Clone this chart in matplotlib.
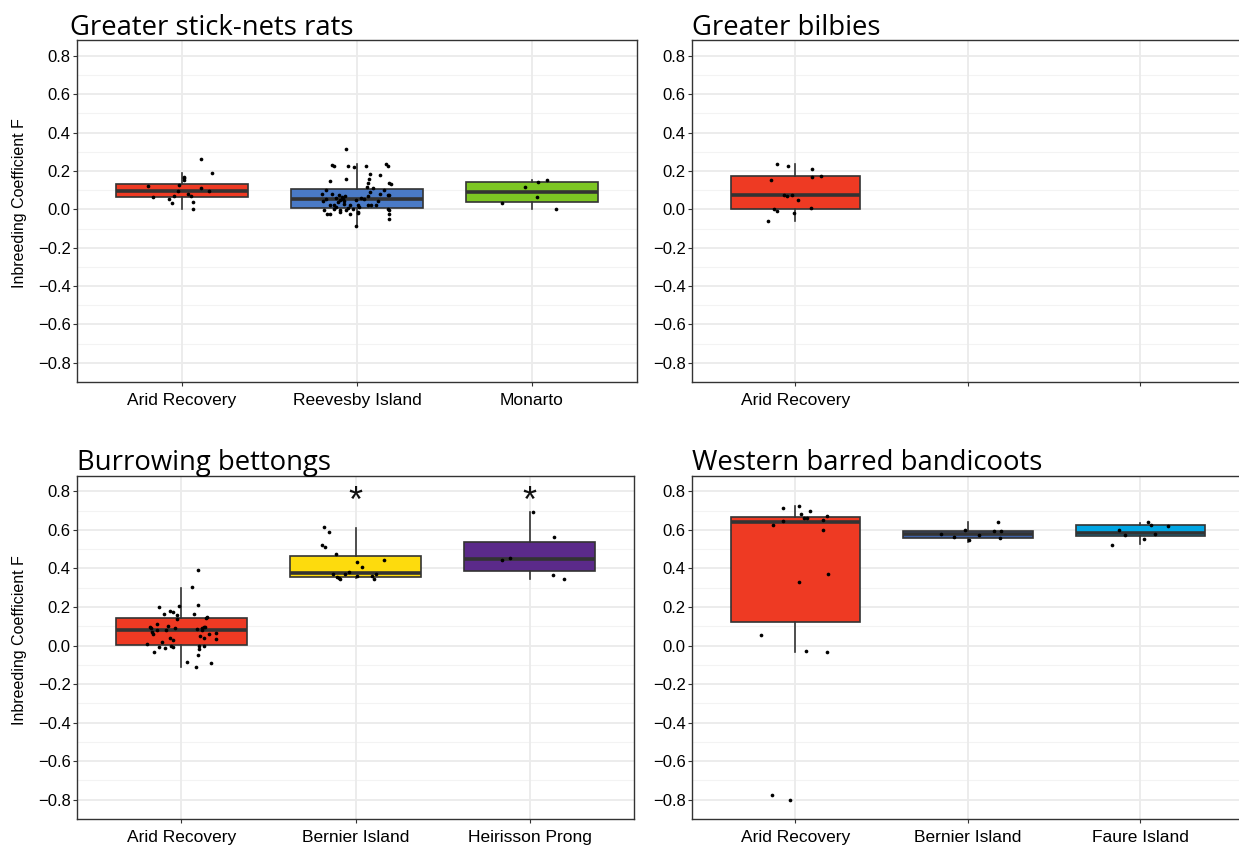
import matplotlib.pyplot as plt

W, H = 1239, 847

RED = '#EE3A23'
BLUE = '#4A7AC6'
GREEN = '#7DC623'
YELLOW = '#FDDB0D'
PURPLE = '#5B2A8A'
NAVY = '#3F62A6'
CYAN = '#00A6E4'
EDGE = '#333333'

# ---- Greater stick-nets rats ----
rat_sites = ['Arid Recovery', 'Reevesby Island', 'Monarto']
rat_colors = [RED, BLUE, GREEN]
rat_q1 = [0.064, 0.007, 0.038]
rat_med = [0.097, 0.053, 0.090]
rat_q3 = [0.131, 0.105, 0.140]
rat_lo = [0.003, -0.086, 0.000]
rat_hi = [0.188, 0.234, 0.152]

rat_arid_F = [0.262, 0.191, 0.169, 0.162, 0.155, 0.121, 0.129, 0.095, 0.109,
              0.098, 0.064, 0.067, 0.079, 0.067, 0.052, 0.031, 0.040, 0.002]
rat_arid_dx = [0.108, 0.173, 0.012, 0.012, 0.010, -0.194, -0.018, -0.022, 0.108,
               0.155, -0.167, -0.043, 0.033, 0.053, -0.076, -0.059, 0.065, 0.063]

rat_reeves_F = [0.317, 0.231, 0.228, 0.226, 0.221, 0.224, 0.234, 0.224, 0.186,
                0.179, 0.159, 0.160, 0.148, 0.138, 0.131, 0.136, 0.114, 0.109,
                0.102, 0.100, 0.088, 0.081, 0.078, 0.076, 0.079, 0.076, 0.074,
                0.071, 0.067, 0.053, 0.059, 0.062, 0.053, 0.048, 0.045, 0.055,
                0.050, 0.060, 0.045, 0.038, 0.043, 0.021, 0.024, 0.010, 0.002,
                0.028, 0.021, 0.021, 0.010, 0.024, 0.021, 0.022, 0.003, -0.003,
                -0.003, -0.003, -0.002, 0.005, 0.000, -0.014, -0.021, -0.022,
                -0.024, -0.024, -0.012, -0.026, -0.048, -0.086]
rat_reeves_dx = [-0.063, -0.143, -0.131, -0.051, -0.016, 0.051, 0.163, 0.176, 0.076,
                 0.129, -0.061, 0.071, -0.155, 0.184, 0.196, 0.063, 0.057, 0.090,
                 -0.180, 0.153, 0.073, -0.200, -0.145, -0.104, 0.131, 0.176, 0.184,
                 -0.067, 0.061, -0.176, -0.118, -0.088, -0.080, -0.096, -0.073, 0.041,
                 -0.008, 0.022, -0.194, -0.110, 0.118, -0.155, -0.131, -0.122, -0.129,
                 -0.073, -0.039, 0.008, 0.010, 0.065, 0.080, 0.106, 0.178, 0.184,
                 -0.186, -0.098, -0.063, -0.049, -0.022, 0.004, 0.008, -0.039,
                 -0.173, -0.155, -0.100, 0.184, 0.182, -0.006]

rat_monarto_F = [0.153, 0.145, 0.119, 0.062, 0.031, 0.000]
rat_monarto_dx = [0.086, 0.037, -0.039, 0.029, -0.169, 0.139]

# ---- Greater bilbies ----
bilby_sites = ['Arid Recovery', '', '']
bilby_colors = [RED]
bilby_q1 = [0.003]
bilby_med = [0.075]
bilby_q3 = [0.172]
bilby_lo = [-0.060]
bilby_hi = [0.237]

bilby_arid_F = [0.235, 0.226, 0.211, 0.173, 0.166, 0.153, 0.075, 0.072, 0.077,
                0.048, 0.003, -0.010, 0.007, -0.017, -0.060]
bilby_arid_dx = [-0.107, -0.043, 0.095, 0.147, 0.097, -0.140, -0.064, -0.052, -0.019,
                 0.012, -0.122, -0.107, 0.087, -0.008, -0.159]

# ---- Burrowing bettongs ----
bettong_sites = ['Arid Recovery', 'Bernier Island', 'Heirisson Prong']
bettong_colors = [RED, YELLOW, PURPLE]
bettong_q1 = [0.005, 0.357, 0.386]
bettong_med = [0.079, 0.378, 0.450]
bettong_q3 = [0.141, 0.466, 0.538]
bettong_lo = [-0.112, 0.350, 0.348]
bettong_hi = [0.300, 0.610, 0.693]
bettong_signif = [False, True, True]

bettong_arid_F = [0.393, 0.302, 0.202, 0.205, 0.210, 0.179, 0.176, 0.164, 0.160,
                  0.164, 0.150, 0.143, 0.138, 0.112, 0.095, 0.091, 0.100, 0.090,
                  0.081, 0.079, 0.071, 0.060, 0.086, 0.090, 0.095, 0.098, 0.081,
                  0.067, 0.059, 0.052, 0.038, 0.041, 0.031, 0.033, 0.017, 0.010,
                  -0.002, -0.005, -0.007, -0.014, -0.002, -0.016, -0.003, -0.033,
                  -0.048, -0.086, -0.090, -0.112]
bettong_arid_dx = [0.097, 0.058, -0.127, -0.012, 0.097, -0.068, -0.046, -0.101, -0.024,
                   0.072, 0.147, 0.143, -0.026, -0.143, -0.179, -0.173, -0.077, -0.036,
                   -0.139, -0.087, -0.169, -0.161, 0.091, 0.121, 0.129, 0.137, 0.117,
                   0.199, 0.159, 0.109, 0.127, -0.068, -0.050, 0.197, -0.109, -0.199,
                   -0.058, -0.050, -0.127, -0.097, 0.099, 0.103, 0.127, -0.159,
                   0.093, 0.034, 0.171, 0.085]

bettong_bernier_F = [0.614, 0.590, 0.521, 0.510, 0.474, 0.445, 0.436, 0.407, 0.383,
                     0.369, 0.372, 0.357, 0.348, 0.352, 0.359, 0.359, 0.348, 0.371]
bettong_bernier_dx = [-0.183, -0.155, -0.193, -0.175, -0.113, 0.163, 0.010, 0.040, -0.038,
                      -0.062, -0.127, -0.105, -0.089, -0.095, 0.006, 0.093, 0.107, 0.119]

bettong_heirisson_F = [0.695, 0.564, 0.445, 0.452, 0.366, 0.347]
bettong_heirisson_dx = [0.020, 0.143, -0.161, -0.113, 0.133, 0.199]

# ---- Western barred bandicoots ----
bandicoot_sites = ['Arid Recovery', 'Bernier Island', 'Faure Island']
bandicoot_colors = [RED, NAVY, CYAN]
bandicoot_q1 = [0.123, 0.560, 0.567]
bandicoot_med = [0.639, 0.578, 0.585]
bandicoot_q3 = [0.668, 0.596, 0.625]
bandicoot_lo = [-0.031, 0.539, 0.526]
bandicoot_hi = [0.724, 0.640, 0.635]

bandicoot_arid_F = [0.716, 0.724, 0.685, 0.697, 0.663, 0.663, 0.671, 0.654, 0.649,
                    0.628, 0.601, 0.372, 0.329, 0.055, -0.029, -0.033, -0.774, -0.800]
bandicoot_arid_dx = [-0.075, 0.021, 0.033, 0.083, 0.050, 0.066, 0.180, 0.157, -0.075,
                     -0.129, 0.162, 0.191, 0.021, -0.199, 0.058, 0.184, -0.139, -0.029]

bandicoot_bernier_F = [0.640, 0.594, 0.594, 0.598, 0.579, 0.572, 0.562, 0.557, 0.546]
bandicoot_bernier_dx = [0.174, 0.149, 0.191, -0.017, -0.158, 0.066, -0.079, 0.184, 0.008]

bandicoot_faure_F = [0.639, 0.625, 0.623, 0.599, 0.575, 0.577, 0.551, 0.524]
bandicoot_faure_dx = [0.046, 0.060, 0.160, -0.124, -0.091, 0.085, 0.021, -0.168]

Y_TICKS = [0.8, 0.6, 0.4, 0.2, 0.0, -0.2, -0.4, -0.6, -0.8]
Y_LABELS = ['0.8', '0.6', '0.4', '0.2', '0.0', '\u22120.2', '\u22120.4', '\u22120.6', '\u22120.8']
MINOR = [0.7, 0.5, 0.3, 0.1, -0.1, -0.3, -0.5, -0.7]

TICK_FONT = 'Liberation Sans'
TITLE_FONT = 'Open Sans'


def px_axes(fig, left, top, right, bottom):
    return fig.add_axes([left / W, 1 - bottom / H, (right - left) / W, (bottom - top) / H])


def style_panel(ax, sites):
    ax.set_xlim(0.4, 3.6)
    ax.set_ylim(-0.9, 0.88)
    ax.set_facecolor('white')
    for y in MINOR:
        ax.axhline(y, color='#F3F3F3', lw=0.8, zorder=0)
    for y in Y_TICKS:
        ax.axhline(y, color='#EBEBEB', lw=1.3, zorder=0)
    for x in range(1, len(sites) + 1):
        ax.axvline(x, color='#EBEBEB', lw=1.3, zorder=0)
    ax.set_yticks(Y_TICKS)
    ax.set_yticklabels(Y_LABELS, fontsize=12, family=TICK_FONT)
    ax.set_xticks(range(1, len(sites) + 1))
    ax.set_xticklabels(sites, fontsize=12.5, family=TICK_FONT)
    ax.tick_params(length=3, width=0.8, color=EDGE)
    ax.tick_params(axis='y', pad=1.5)
    ax.tick_params(axis='x', pad=5)
    for s in ax.spines.values():
        s.set_color(EDGE)
        s.set_linewidth(1.0)


def draw_boxes(ax, colors, q1, med, q3, lo, hi, groups):
    stats = []
    for i in range(len(colors)):
        stats.append(dict(q1=q1[i], med=med[i], q3=q3[i],
                          whislo=lo[i], whishi=hi[i], fliers=[]))
    pos = list(range(1, len(colors) + 1))
    bp = ax.bxp(stats, positions=pos, widths=0.75, patch_artist=True,
                showcaps=False, showfliers=False, manage_ticks=False,
                boxprops=dict(edgecolor=EDGE, linewidth=1.2),
                medianprops=dict(color=EDGE, linewidth=2.6),
                whiskerprops=dict(color=EDGE, linewidth=1.2),
                zorder=2)
    for patch, c in zip(bp['boxes'], colors):
        patch.set_facecolor(c)
    for x0, (vals, dx) in zip(pos, groups):
        ax.scatter([x0 + d for d in dx], vals, s=7, color='black',
                   linewidths=0, zorder=4)


fig = plt.figure(figsize=(W / 100, H / 100), dpi=100, facecolor='white')

ax1 = px_axes(fig, 77, 40.5, 637, 382)
style_panel(ax1, rat_sites)
draw_boxes(ax1, rat_colors, rat_q1, rat_med, rat_q3, rat_lo, rat_hi,
           [(rat_arid_F, rat_arid_dx), (rat_reeves_F, rat_reeves_dx),
            (rat_monarto_F, rat_monarto_dx)])

ax2 = px_axes(fig, 692, 40.5, 1244, 382)
style_panel(ax2, bilby_sites)
draw_boxes(ax2, bilby_colors, bilby_q1, bilby_med, bilby_q3, bilby_lo, bilby_hi,
           [(bilby_arid_F, bilby_arid_dx)])

ax3 = px_axes(fig, 77, 476, 634, 819)
style_panel(ax3, bettong_sites)
draw_boxes(ax3, bettong_colors, bettong_q1, bettong_med, bettong_q3, bettong_lo, bettong_hi,
           [(bettong_arid_F, bettong_arid_dx), (bettong_bernier_F, bettong_bernier_dx),
            (bettong_heirisson_F, bettong_heirisson_dx)])
for i, sig in enumerate(bettong_signif):
    if sig:
        ax3.text(i + 1, 0.745, '*', fontsize=26, family=TICK_FONT,
                 ha='center', va='center', color='#111111')

ax4 = px_axes(fig, 692, 476, 1244, 819)
style_panel(ax4, bandicoot_sites)
draw_boxes(ax4, bandicoot_colors, bandicoot_q1, bandicoot_med, bandicoot_q3,
           bandicoot_lo, bandicoot_hi,
           [(bandicoot_arid_F, bandicoot_arid_dx), (bandicoot_bernier_F, bandicoot_bernier_dx),
            (bandicoot_faure_F, bandicoot_faure_dx)])

# panel titles
titles = [('Greater stick-nets rats', 70, 35), ('Greater bilbies', 692, 35),
          ('Burrowing bettongs', 77, 470), ('Western barred bandicoots', 692, 470)]
for txt, x, y in titles:
    fig.text(x / W, 1 - y / H, txt, fontsize=19.8, family=TITLE_FONT,
             ha='left', va='baseline', color='black')

for yc in (203, 640):
    fig.text(20 / W, 1 - yc / H, 'Inbreeding Coefficient F', rotation=90,
             fontsize=11.5, family=TICK_FONT, ha='center', va='center')

fig.savefig('out.png', dpi=100, facecolor='white')
